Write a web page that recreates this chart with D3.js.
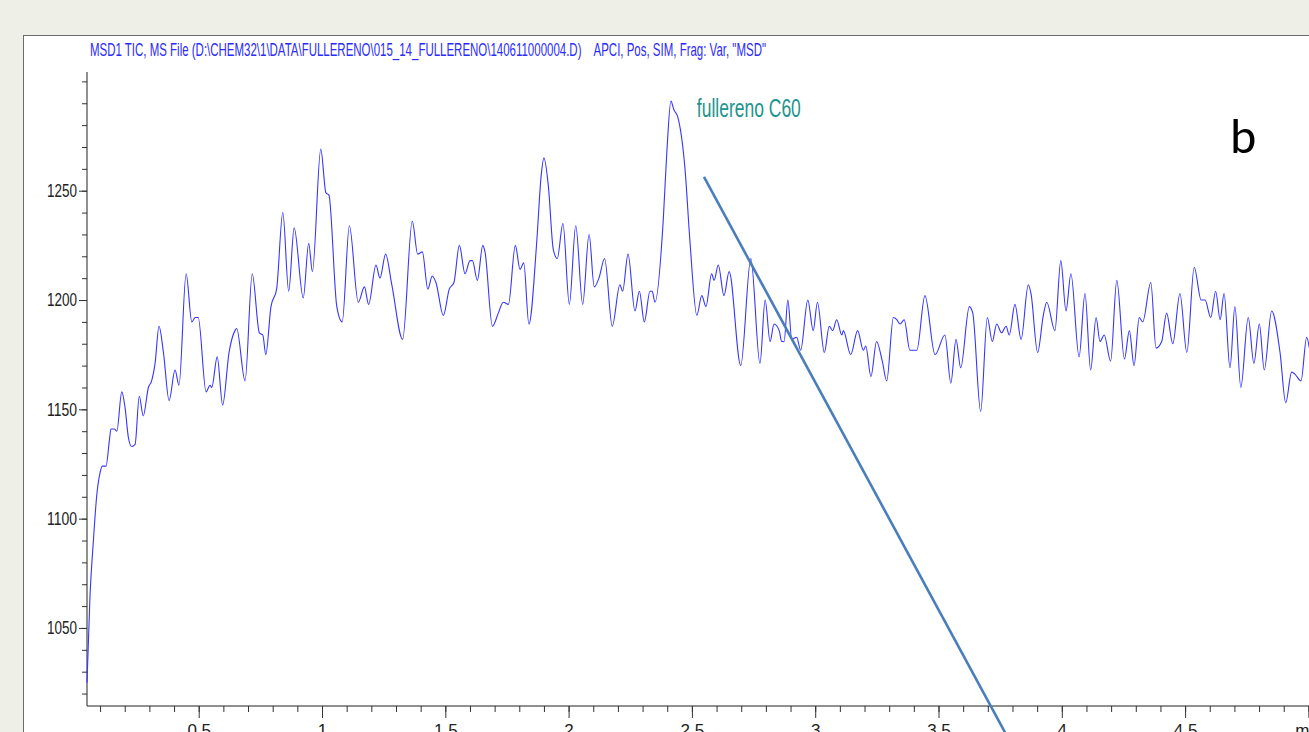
<!DOCTYPE html>
<html>
<head>
<meta charset="utf-8">
<script src="https://cdn.jsdelivr.net/npm/d3@7"></script>
<style>
  html, body { margin: 0; padding: 0; background: #eef0e8; overflow: hidden; }
  svg { display: block; }
</style>
</head>
<body>
<div id="chart"></div>
<script>
// retention time (min) and TIC abundance
const times = [0.047, 0.059, 0.073, 0.086, 0.100, 0.109, 0.124, 0.138, 0.144, 0.158, 0.168, 0.188, 0.201, 0.215, 0.228, 0.242,
  0.259, 0.275, 0.296, 0.309, 0.323, 0.339, 0.357, 0.380, 0.404, 0.420, 0.449, 0.472, 0.486, 0.498, 0.530, 0.546, 0.553,
  0.575, 0.597, 0.623, 0.647, 0.654, 0.688, 0.717, 0.746, 0.760, 0.772, 0.793, 0.816, 0.841, 0.865, 0.887, 0.924, 0.946,
  0.961, 0.995, 1.016, 1.028, 1.060, 1.082, 1.111, 1.147, 1.172, 1.189, 1.219, 1.235, 1.258, 1.283, 1.327, 1.366, 1.388,
  1.407, 1.429, 1.447, 1.462, 1.492, 1.516, 1.535, 1.557, 1.580, 1.600, 1.610, 1.630, 1.652, 1.661, 1.691, 1.715, 1.735,
  1.756, 1.784, 1.803, 1.818, 1.839, 1.871, 1.888, 1.900, 1.918, 1.938, 1.954, 1.977, 2.003, 2.029, 2.057, 2.083, 2.104,
  2.123, 2.146, 2.177, 2.208, 2.219, 2.241, 2.269, 2.287, 2.307, 2.330, 2.339, 2.350, 2.384, 2.398, 2.415, 2.427, 2.442,
  2.472, 2.492, 2.520, 2.540, 2.557, 2.580, 2.590, 2.607, 2.630, 2.651, 2.698, 2.739, 2.776, 2.797, 2.817, 2.833, 2.854,
  2.864, 2.874, 2.889, 2.905, 2.925, 2.941, 2.970, 2.992, 3.009, 3.037, 3.057, 3.071, 3.087, 3.108, 3.114, 3.144, 3.172,
  3.195, 3.205, 3.226, 3.249, 3.272, 3.290, 3.317, 3.331, 3.344, 3.361, 3.384, 3.412, 3.445, 3.486, 3.526, 3.550, 3.571,
  3.590, 3.625, 3.639, 3.671, 3.698, 3.718, 3.736, 3.756, 3.774, 3.787, 3.810, 3.835, 3.864, 3.875, 3.902, 3.925, 3.939,
  3.972, 3.996, 4.017, 4.037, 4.070, 4.094, 4.117, 4.139, 4.155, 4.172, 4.198, 4.223, 4.254, 4.274, 4.293, 4.314, 4.328,
  4.361, 4.382, 4.405, 4.425, 4.450, 4.479, 4.507, 4.537, 4.565, 4.581, 4.604, 4.624, 4.642, 4.658, 4.682, 4.702, 4.726,
  4.756, 4.779, 4.801, 4.821, 4.851, 4.885, 4.908, 4.932, 4.946, 4.970, 4.993, 5.004];
const tic = [1025, 1064, 1090, 1110, 1121, 1124, 1124, 1136, 1141, 1141, 1140, 1158, 1151, 1137, 1133, 1134,
  1156, 1147, 1160, 1163, 1171, 1188, 1176, 1154, 1168, 1161, 1212, 1190, 1192, 1192, 1158, 1161, 1160,
  1174, 1152, 1176, 1186, 1187, 1163, 1212, 1185, 1184, 1175, 1197, 1205, 1240, 1204, 1233, 1201, 1226,
  1213, 1269, 1249, 1248, 1197, 1190, 1234, 1199, 1206, 1198, 1216, 1210, 1221, 1207, 1182, 1236, 1221,
  1222, 1205, 1211, 1208, 1193, 1205, 1208, 1225, 1212, 1218, 1218, 1209, 1225, 1222, 1188, 1194, 1199,
  1198, 1225, 1214, 1217, 1189, 1227, 1256, 1265, 1252, 1223, 1219, 1235, 1198, 1234, 1198, 1230, 1206,
  1210, 1219, 1188, 1207, 1204, 1221, 1195, 1204, 1190, 1204, 1204, 1199, 1237, 1267, 1291, 1287, 1284,
  1260, 1227, 1193, 1202, 1197, 1212, 1209, 1216, 1202, 1213, 1170, 1219, 1171, 1200, 1181, 1189, 1186,
  1181, 1181, 1200, 1182, 1183, 1177, 1200, 1186, 1199, 1176, 1188, 1186, 1191, 1184, 1186, 1175, 1186,
  1177, 1179, 1165, 1181, 1172, 1163, 1192, 1191, 1189, 1191, 1177, 1177, 1202, 1175, 1184, 1162, 1182,
  1169, 1197, 1194, 1149, 1192, 1181, 1189, 1185, 1188, 1184, 1198, 1182, 1207, 1203, 1176, 1193, 1199,
  1186, 1218, 1195, 1212, 1174, 1203, 1168, 1192, 1181, 1184, 1172, 1209, 1173, 1186, 1170, 1192, 1190,
  1208, 1178, 1181, 1194, 1180, 1203, 1176, 1215, 1200, 1200, 1192, 1204, 1191, 1203, 1169, 1197, 1160,
  1192, 1171, 1189, 1168, 1195, 1176, 1153, 1167, 1166, 1163, 1183, 1178];

const yMajor = [1050, 1100, 1150, 1200, 1250];
const yMinor = d3.range(1020, 1301, 10);
const xMajor = [0.5, 1, 1.5, 2, 2.5, 3, 3.5, 4, 4.5, 5];
const xLabels = ["0.5", "1", "1.5", "2", "2.5", "3", "3.5", "4", "4.5", "min"];
const xMinor = d3.range(1, 51).map(function (d) { return d / 10 });

const title = 'MSD1 TIC, MS File (D:\\CHEM32\\1\\DATA\\FULLERENO\\015_14_FULLERENO\\140611000004.D)    APCI, Pos, SIM, Frag: Var, "MSD"';

// annotation: label and pointer line (in data units)
const peakLabel = { text: "fullereno C60", t: 2.52, v: 1283.5 };
const pointer = [{ t: 2.549, v: 1256.3 }, { t: 3.79, v: 998 }];

const width = 1309, height = 732;

var svg = d3.select('#chart').append('svg')
  .attr('width', width)
  .attr('height', height);

// white panel with grey frame
svg.append('rect')
  .attr('x', 23.5).attr('y', 35.5)
  .attr('width', 1400).attr('height', 800)
  .attr('fill', '#ffffff')
  .attr('stroke', '#6b6b6b')
  .attr('stroke-width', 1);

var x = d3.scaleLinear().domain([0.047, 5.0]).range([87, 1308.4]);
var y = d3.scaleLinear().domain([1014.3, 1304.3]).range([706, 72]);

var narrow = "'Liberation Sans Narrow', 'Arial Narrow', 'Liberation Sans', Arial, sans-serif";

// title
svg.append('text')
  .attr('x', 90).attr('y', 56)
  .attr('fill', '#2b2bff')
  .style('font-family', narrow)
  .style('font-size', '19px')
  .style('white-space', 'pre')
  .attr('textLength', 676)
  .attr('lengthAdjust', 'spacingAndGlyphs')
  .text(title);

// y axis
svg.append('g')
  .attr('transform', 'translate(87,0)')
  .call(d3.axisLeft(y).tickValues(yMinor).tickSize(5).tickFormat(''))
  .call(function (g) { g.select('.domain').remove() })
  .selectAll('line').attr('stroke', '#333');

var yAxis = svg.append('g')
  .attr('transform', 'translate(87,0)')
  .call(d3.axisLeft(y).tickValues(yMajor).tickSize(8).tickPadding(2).tickFormat(d3.format('d')));
yAxis.select('.domain').attr('stroke', '#222').attr('d', 'M0,' + y(1304.3) + 'V' + y(1014.3));
yAxis.selectAll('line').attr('stroke', '#333');
yAxis.selectAll('text')
  .attr('fill', '#222')
  .style('font-family', narrow)
  .style('font-size', '18px')
  .attr('textLength', 30)
  .attr('lengthAdjust', 'spacingAndGlyphs');

// x axis
svg.append('g')
  .attr('transform', 'translate(0,706)')
  .call(d3.axisBottom(x).tickValues(xMinor).tickSize(6).tickFormat(''))
  .call(function (g) { g.select('.domain').remove() })
  .selectAll('line').attr('stroke', '#333');

var xAxis = svg.append('g')
  .attr('transform', 'translate(0,706)')
  .call(d3.axisBottom(x).tickValues(xMajor).tickSize(12).tickPadding(6)
    .tickFormat(function (d, i) { return xLabels[i] }));
xAxis.select('.domain').attr('stroke', '#222').attr('d', 'M87,0H1309');
xAxis.selectAll('line').attr('stroke', '#333');
xAxis.selectAll('text')
  .attr('fill', '#222')
  .style('font-family', narrow)
  .style('font-size', '17px');

// TIC trace
var trace = times.map(function (t, i) { return { t: t, v: tic[i] } });
svg.append('path')
  .datum(trace)
  .attr('fill', 'none')
  .attr('stroke', '#3535ff')
  .attr('stroke-width', 1.1)
  .attr('d', d3.line()
    .x(function (d) { return x(d.t) })
    .y(function (d) { return y(d.v) })
    .curve(d3.curveMonotoneX));

// annotation
svg.append('text')
  .attr('x', x(peakLabel.t)).attr('y', y(peakLabel.v))
  .attr('fill', '#22948c')
  .style('font-family', narrow)
  .style('font-size', '25px')
  .attr('textLength', 104)
  .attr('lengthAdjust', 'spacingAndGlyphs')
  .text(peakLabel.text);

svg.append('path')
  .datum(pointer)
  .attr('fill', 'none')
  .attr('stroke', '#4a7ebb')
  .attr('stroke-width', 2.6)
  .attr('d', d3.line()
    .x(function (d) { return x(d.t) })
    .y(function (d) { return y(d.v) }));

// panel letter
svg.append('text')
  .attr('x', 1230).attr('y', 153)
  .attr('fill', '#000')
  .style('font-family', "Carlito, 'Open Sans', 'Noto Sans', sans-serif")
  .style('font-size', '50px')
  .text('b');
</script>
</body>
</html>
